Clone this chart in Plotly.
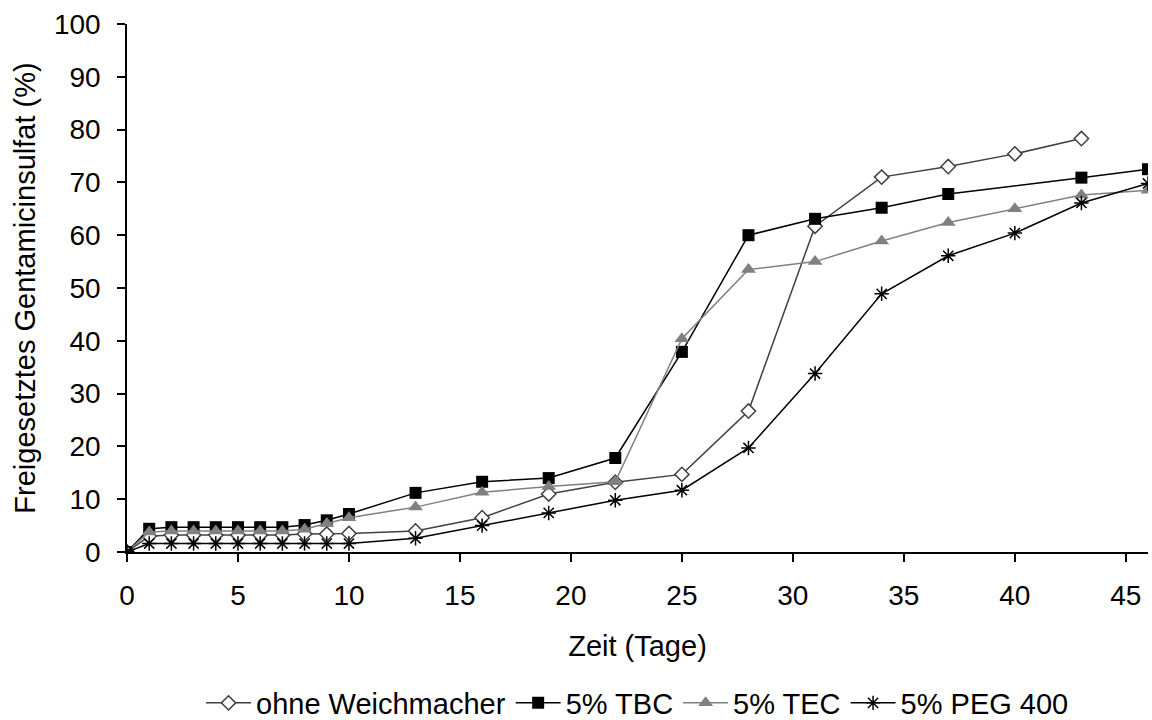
import plotly.graph_objects as go

# Data
t_ohne = [0, 1, 2, 3, 4, 5, 6, 7, 8, 9, 10, 13, 16, 19, 22, 25, 28, 31, 34, 37, 40, 43]
v_ohne = [0, 3.0, 3.2, 3.2, 3.2, 3.2, 3.2, 3.2, 3.4, 3.4, 3.5, 4.0, 6.5, 11.0, 13.2, 14.7, 26.7, 61.7, 71.0, 73.0, 75.4, 78.3]

t_tbc = [0, 1, 2, 3, 4, 5, 6, 7, 8, 9, 10, 13, 16, 19, 22, 25, 28, 31, 34, 37, 43, 46]
v_tbc = [0, 4.4, 4.7, 4.7, 4.7, 4.7, 4.7, 4.7, 5.1, 6.0, 7.2, 11.2, 13.3, 14.0, 17.8, 37.9, 60.0, 63.1, 65.2, 67.8, 70.9, 72.5]

t_tec = [0, 1, 2, 3, 4, 5, 6, 7, 8, 9, 10, 13, 16, 19, 22, 25, 28, 31, 34, 37, 40, 43, 46]
v_tec = [0, 3.8, 4.0, 4.0, 4.0, 4.0, 4.0, 4.0, 4.3, 5.4, 6.5, 8.5, 11.3, 12.4, 13.3, 40.4, 53.5, 55.0, 58.9, 62.4, 65.0, 67.6, 68.5]

t_peg = [0, 1, 2, 3, 4, 5, 6, 7, 8, 9, 10, 13, 16, 19, 22, 25, 28, 31, 34, 37, 40, 43, 46]
v_peg = [0, 1.6, 1.6, 1.6, 1.6, 1.6, 1.6, 1.6, 1.6, 1.6, 1.6, 2.6, 5.0, 7.4, 9.8, 11.7, 19.7, 33.8, 48.9, 56.1, 60.4, 66.1, 69.8]

names = ["ohne Weichmacher", "5% TBC", "5% TEC", "5% PEG 400"]
x_ticks = list(range(0, 46, 5))
y_ticks = list(range(0, 101, 10))

fig = go.Figure()
fig.add_trace(go.Scatter(
    x=t_ohne, y=v_ohne, name=names[0], mode="lines+markers",
    line=dict(color="#404040", width=1.5),
    marker=dict(symbol="diamond", size=11, color="white", line=dict(color="#404040", width=1.5)),
))
fig.add_trace(go.Scatter(
    x=t_tbc, y=v_tbc, name=names[1], mode="lines+markers",
    line=dict(color="black", width=1.5),
    marker=dict(symbol="square", size=12, color="black"),
))
fig.add_trace(go.Scatter(
    x=t_tec, y=v_tec, name=names[2], mode="lines+markers",
    line=dict(color="#808080", width=1.5),
    marker=dict(symbol="triangle-up", size=13, color="#808080"),
))
fig.add_trace(go.Scatter(
    x=t_peg, y=v_peg, name=names[3], mode="lines+markers",
    line=dict(color="black", width=1.5),
    marker=dict(symbol="asterisk-open", size=12, color="black", line=dict(color="black", width=1.5)),
))

font = "Liberation Sans, Arial, sans-serif"
fig.update_layout(
    width=1152, height=720,
    paper_bgcolor="white", plot_bgcolor="white",
    margin=dict(l=127, r=4, t=24, b=168, autoexpand=False),
    font=dict(family=font, size=28, color="black"),
    xaxis=dict(
        range=[0, 46], tickvals=x_ticks, showgrid=False, zeroline=False,
        showline=True, linecolor="black", linewidth=1.5, automargin=False,
        ticks="outside", ticklen=8, tickwidth=1.5, tickcolor="black",
        ticklabelstandoff=10,
        title=dict(text="Zeit (Tage)", font=dict(size=29), standoff=25),
        tickfont=dict(size=28),
    ),
    yaxis=dict(
        range=[0, 100], tickvals=y_ticks, showgrid=False, zeroline=False,
        showline=True, linecolor="black", linewidth=1.5, automargin=False,
        ticks="outside", ticklen=8, tickwidth=1.5, tickcolor="black",
        ticklabelstandoff=11,
        title=dict(text="Freigesetztes Gentamicinsulfat (%)", font=dict(size=29), standoff=10),
        tickfont=dict(size=28),
    ),
    legend=dict(
        orientation="h", x=0.5, xanchor="center", y=-0.286, yanchor="middle",
        font=dict(size=29), itemwidth=45, tracegroupgap=0,
    ),
    showlegend=True,
)

fig.write_html("out.html", config={"displayModeBar": False},
               post_script="document.body.style.margin='0';")
